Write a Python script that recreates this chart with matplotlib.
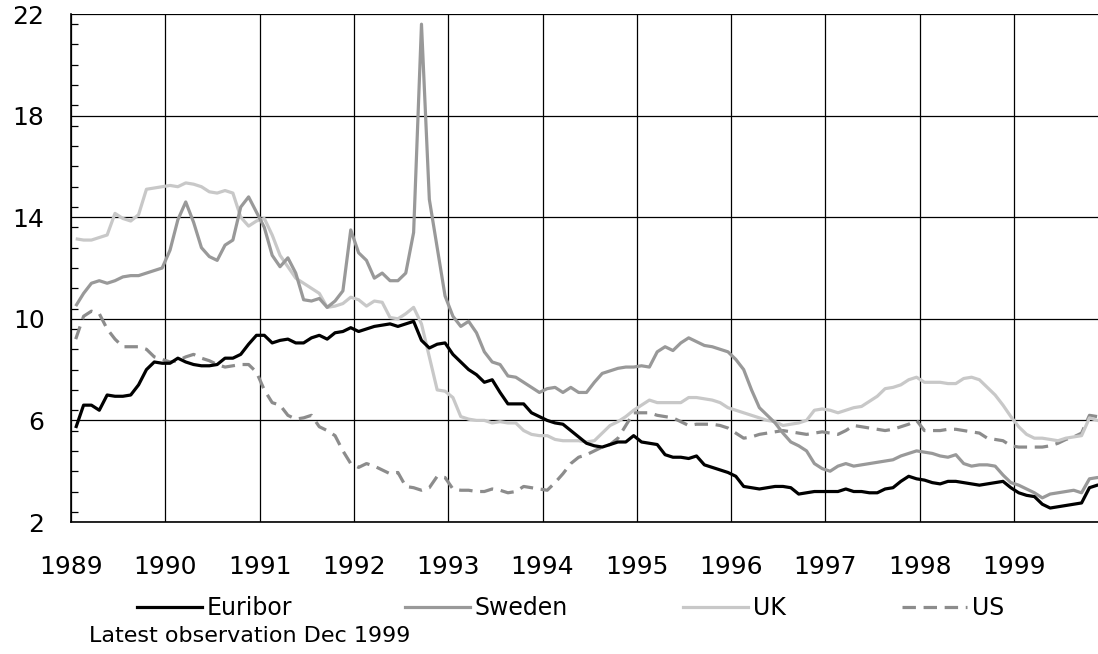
import numpy as np
import matplotlib
matplotlib.use("Agg")
import matplotlib.pyplot as plt
from matplotlib.ticker import MultipleLocator
from matplotlib.lines import Line2D

plt.rcParams['font.family'] = ['DejaVu Sans']

# Monthly 3-month interest rates, Jan 1989 - Dec 1999
euribor = [
    5.7, 6.6, 6.6, 6.4, 7.0, 6.95, 6.95, 7.0, 7.4, 8.0, 8.3, 8.25,          # 1989
    8.25, 8.45, 8.3, 8.2, 8.15, 8.15, 8.2, 8.45, 8.45, 8.6, 9.0, 9.35,     # 1990
    9.35, 9.05, 9.15, 9.2, 9.05, 9.05, 9.25, 9.35, 9.2, 9.45, 9.5, 9.65,   # 1991
    9.5, 9.6, 9.7, 9.75, 9.8, 9.7, 9.8, 9.9, 9.15, 8.85, 9.0, 9.05,        # 1992
    8.6, 8.3, 8.0, 7.8, 7.5, 7.6, 7.1, 6.65, 6.65, 6.65, 6.3, 6.15,        # 1993
    6.0, 5.9, 5.85, 5.6, 5.35, 5.1, 5.0, 4.95, 5.05, 5.15, 5.15, 5.4,      # 1994
    5.15, 5.1, 5.05, 4.65, 4.55, 4.55, 4.5, 4.6, 4.25, 4.15, 4.05, 3.95,   # 1995
    3.8, 3.4, 3.35, 3.3, 3.35, 3.4, 3.4, 3.35, 3.1, 3.15, 3.2, 3.2,        # 1996
    3.2, 3.2, 3.3, 3.2, 3.2, 3.15, 3.15, 3.3, 3.35, 3.6, 3.8, 3.7,         # 1997
    3.65, 3.55, 3.5, 3.6, 3.6, 3.55, 3.5, 3.45, 3.5, 3.55, 3.6, 3.35,      # 1998
    3.15, 3.05, 3.0, 2.7, 2.55, 2.6, 2.65, 2.7, 2.75, 3.35, 3.45, 3.5,     # 1999
]
sweden = [
    10.5, 11.0, 11.4, 11.5, 11.4, 11.5, 11.65, 11.7, 11.7, 11.8, 11.9, 12.0,
    12.7, 13.9, 14.6, 13.8, 12.8, 12.45, 12.3, 12.9, 13.1, 14.4, 14.8, 14.2,
    13.6, 12.5, 12.05, 12.4, 11.8, 10.75, 10.7, 10.8, 10.45, 10.7, 11.1, 13.5,
    12.6, 12.3, 11.6, 11.8, 11.5, 11.5, 11.8, 13.4, 21.6, 14.7, 12.8, 10.9,
    10.1, 9.7, 9.9, 9.45, 8.7, 8.3, 8.2, 7.75, 7.7, 7.5, 7.3, 7.1,
    7.25, 7.3, 7.1, 7.3, 7.1, 7.1, 7.5, 7.85, 7.95, 8.05, 8.1, 8.1,
    8.15, 8.1, 8.7, 8.9, 8.75, 9.05, 9.25, 9.1, 8.95, 8.9, 8.8, 8.7,
    8.4, 8.0, 7.2, 6.5, 6.2, 5.9, 5.5, 5.15, 5.0, 4.8, 4.3, 4.1,
    4.0, 4.2, 4.3, 4.2, 4.25, 4.3, 4.35, 4.4, 4.45, 4.6, 4.7, 4.8,
    4.75, 4.7, 4.6, 4.55, 4.65, 4.3, 4.2, 4.25, 4.25, 4.2, 3.85, 3.55,
    3.45, 3.3, 3.15, 2.95, 3.1, 3.15, 3.2, 3.25, 3.15, 3.7, 3.75, 3.75,
]
uk = [
    13.15, 13.1, 13.1, 13.2, 13.3, 14.15, 13.95, 13.85, 14.1, 15.1, 15.15, 15.2,
    15.25, 15.2, 15.35, 15.3, 15.2, 15.0, 14.95, 15.05, 14.95, 14.0, 13.65, 13.85,
    13.95, 13.3, 12.5, 12.05, 11.6, 11.4, 11.2, 11.0, 10.45, 10.5, 10.6, 10.85,
    10.75, 10.5, 10.7, 10.65, 10.05, 10.0, 10.2, 10.45, 9.8, 8.5, 7.2, 7.15,
    6.9, 6.15, 6.05, 6.0, 6.0, 5.9, 5.95, 5.9, 5.9, 5.6, 5.45, 5.4,
    5.4, 5.25, 5.2, 5.2, 5.2, 5.15, 5.2, 5.5, 5.8, 5.95, 6.15, 6.4,
    6.6, 6.8, 6.7, 6.7, 6.7, 6.7, 6.9, 6.9, 6.85, 6.8, 6.7, 6.5,
    6.4, 6.3, 6.2, 6.1, 6.0, 5.95, 5.8, 5.85, 5.9, 6.0, 6.4, 6.45,
    6.4, 6.3, 6.4, 6.5, 6.55, 6.75, 6.95, 7.25, 7.3, 7.4, 7.6, 7.7,
    7.5, 7.5, 7.5, 7.45, 7.45, 7.65, 7.7, 7.6, 7.3, 7.0, 6.6, 6.15,
    5.75, 5.45, 5.3, 5.3, 5.25, 5.2, 5.3, 5.35, 5.4, 6.1, 6.0, 5.95,
]
us = [
    9.2, 10.1, 10.3, 10.2, 9.6, 9.2, 8.9, 8.9, 8.9, 8.8, 8.5, 8.4,
    8.3, 8.35, 8.5, 8.6, 8.45, 8.35, 8.2, 8.1, 8.15, 8.2, 8.2, 7.9,
    7.2, 6.7, 6.6, 6.2, 6.05, 6.1, 6.2, 5.75, 5.6, 5.4, 4.8, 4.3,
    4.15, 4.3, 4.2, 4.05, 3.9, 3.95, 3.4, 3.35, 3.25, 3.35, 3.8, 3.75,
    3.3, 3.25, 3.25, 3.2, 3.2, 3.3, 3.25, 3.15, 3.2, 3.4, 3.35, 3.3,
    3.25, 3.55, 3.9, 4.3, 4.55, 4.65, 4.8, 4.95, 5.05, 5.3, 5.8, 6.3,
    6.3, 6.3, 6.2, 6.15, 6.1, 5.95, 5.8, 5.85, 5.85, 5.85, 5.8, 5.7,
    5.5, 5.3, 5.35, 5.45, 5.5, 5.55, 5.6, 5.55, 5.5, 5.45, 5.5, 5.55,
    5.5, 5.45, 5.6, 5.8, 5.75, 5.7, 5.65, 5.6, 5.65, 5.75, 5.85, 6.0,
    5.6, 5.6, 5.6, 5.65, 5.65, 5.6, 5.55, 5.5, 5.3, 5.25, 5.2, 5.0,
    4.95, 4.95, 4.95, 4.95, 5.0, 5.1, 5.25, 5.35, 5.5, 6.2, 6.15, 6.1,
]
series_names = ["Euribor", "Sweden", "UK", "US"]
year_ticks = list(range(1989, 2000))
y_ticks = [2, 6, 10, 14, 18, 22]
footnote = "Latest observation Dec 1999"

months = np.arange(len(euribor))
x = 1989 + (months + 0.6) / 12.0

W, H = 1098, 654
fig = plt.figure(figsize=(W / 100, H / 100), dpi=100)
ax = fig.add_axes([71 / W, 1 - 522 / H, 1 - 71 / W, (522 - 14) / H])

styles = [
    dict(color="#000000", lw=2.3, ls="-"),
    dict(color="#999999", lw=2.3, ls="-"),
    dict(color="#c8c8c8", lw=2.3, ls="-"),
    dict(color="#8c8c8c", lw=2.3, ls=(0, (4.2, 2.4))),
]
data = [euribor, sweden, uk, us]
order = [3, 2, 1, 0]
lines = {}
for i in order:
    ln, = ax.plot(x, data[i], solid_capstyle="butt", dash_capstyle="butt",
                  solid_joinstyle="round", zorder=3 + (3 - i) * 0.1, **styles[i])
    lines[i] = ln

ax.set_xlim(1989, 1989 + (1098 - 71) / 94.3)
ax.set_ylim(2, 22)
ax.set_xticks(year_ticks)
ax.set_xticklabels([str(y) for y in year_ticks])
ax.set_yticks(y_ticks)
ax.yaxis.set_minor_locator(MultipleLocator(0.8))
ax.grid(True, which="major", color="black", linewidth=0.9, zorder=1)
ax.set_axisbelow(True)
for s in ["top", "right"]:
    ax.spines[s].set_visible(False)
for s in ["left", "bottom"]:
    ax.spines[s].set_linewidth(1.2)
    ax.spines[s].set_color("black")
ax.tick_params(axis="x", which="both", length=0, pad=24, labelsize=18)
ax.tick_params(axis="y", which="major", length=0, pad=19, labelsize=18)
ax.tick_params(axis="y", which="minor", direction="in", length=5, width=0.9)
ax.tick_params(axis="x", which="minor", length=0)

# legend entries placed individually
leg_x = [137, 405, 683, 902]
for i, lx in enumerate(leg_x):
    st = styles[i]
    h = Line2D([], [], color=st["color"], lw=st["lw"], ls=st["ls"])
    leg = fig.legend([h], [series_names[i]], loc="center left",
                     bbox_to_anchor=(lx / W, 1 - 608 / H), frameon=False,
                     fontsize=17, handlelength=2.75, handletextpad=0.2,
                     borderpad=0, borderaxespad=0)

fig.text(89 / W, 1 - 636 / H, footnote, fontsize=16, va="center", ha="left")

fig.savefig("out.png", dpi=100)
